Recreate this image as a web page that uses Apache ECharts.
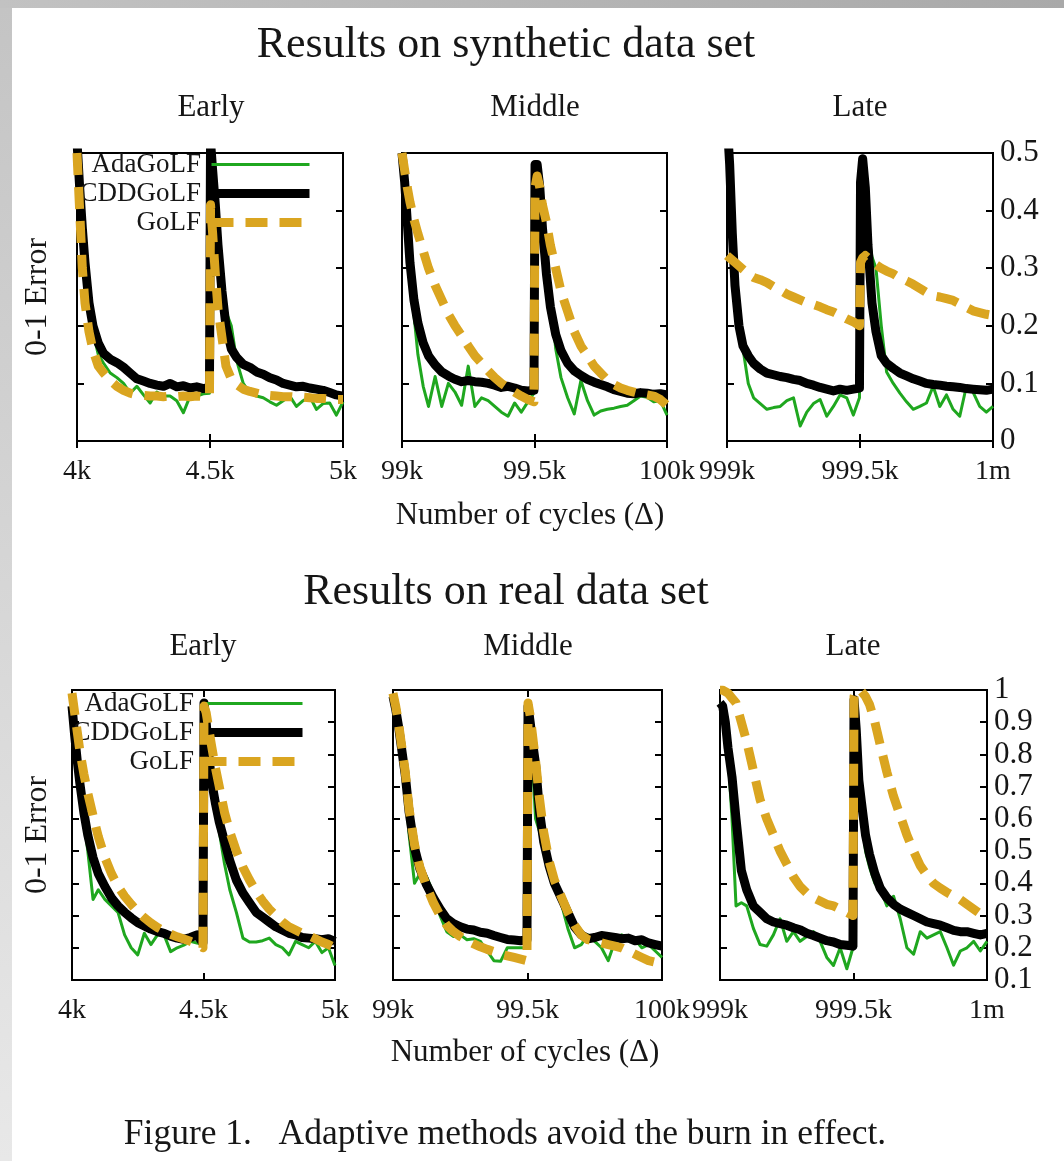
<!DOCTYPE html>
<html><head><meta charset="utf-8">
<script src="https://cdn.jsdelivr.net/npm/echarts@6/dist/echarts.min.js"></script>
<style>
html,body{margin:0;padding:0;width:1064px;height:1161px;overflow:hidden;}
body{background:linear-gradient(to right,#c2c2c2,#a9a9a9);}
#leftband{position:absolute;left:0;top:8px;width:12px;bottom:0;background:linear-gradient(#c4c4c4,#e8e8e8);}
#page{position:absolute;left:12px;top:8px;right:0;bottom:0;background:#fff;}
#chart{position:absolute;left:0;top:0;width:1064px;height:1161px;}
</style></head>
<body>
<div id="leftband"></div><div id="page"></div><div id="chart"></div>
<script>
// ---- data ----
const OFFSETS = [0,10,20,30,45,60,80,100,125,150,175,200,225,250,275,300,325,350,375,400,425,450,475,498,
                 502,510,520,530,545,560,580,600,625,650,675,700,725,750,775,800,825,850,875,900,925,950,975,1000];
const X_BASES = [4000, 99000, 999000];
const X_TICKS_EARLY = ['4k','4.5k','5k'];
const X_TICKS_MIDDLE = ['99k','99.5k','100k'];
const X_TICKS_LATE = ['999k','999.5k','1m'];
const Y_RANGE_SYN = [0, 0.5];
const Y_RANGE_REAL = [0.1, 1];
const SERIES_NAMES = ['AdaGoLF','CDDGoLF','GoLF'];
const ROW_TITLES = ['Results on synthetic data set','Results on real data set'];
const COL_TITLES = ['Early','Middle','Late'];

// synthetic, early
const SYN_EARLY_ADA = [0.5,0.44,0.36,0.3,0.23,0.19,0.15,0.135,0.118,0.11,0.1,0.083,0.095,0.08,0.066,0.085,0.078,0.078,0.07,0.049,0.078,0.078,0.082,0.083,
  0.5,0.47,0.41,0.35,0.29,0.225,0.2,0.14,0.1,0.083,0.078,0.075,0.068,0.062,0.07,0.078,0.06,0.07,0.077,0.055,0.065,0.066,0.045,0.068];
const SYN_EARLY_CDD = [0.52,0.44,0.37,0.31,0.24,0.2,0.17,0.152,0.142,0.136,0.128,0.118,0.108,0.104,0.1,0.097,0.095,0.1,0.094,0.096,0.092,0.094,0.091,0.093,
  0.52,0.47,0.41,0.34,0.26,0.2,0.16,0.145,0.133,0.128,0.12,0.116,0.11,0.106,0.1,0.097,0.094,0.095,0.092,0.09,0.088,0.084,0.08,0.078];
const SYN_EARLY_GOLF = [0.5,0.4,0.3,0.24,0.19,0.158,0.13,0.118,0.105,0.095,0.088,0.083,0.08,0.079,0.078,0.078,0.077,0.078,0.077,0.078,0.077,0.078,0.077,0.078,
  0.41,0.36,0.29,0.23,0.18,0.13,0.108,0.098,0.09,0.086,0.083,0.08,0.079,0.078,0.077,0.077,0.076,0.076,0.075,0.074,0.074,0.073,0.072,0.072];
// synthetic, middle
const SYN_MIDDLE_ADA = [0.5,0.44,0.36,0.29,0.22,0.15,0.095,0.06,0.112,0.06,0.1,0.085,0.062,0.13,0.06,0.075,0.07,0.06,0.05,0.043,0.066,0.05,0.068,0.083,
  0.47,0.45,0.4,0.36,0.32,0.26,0.16,0.11,0.075,0.047,0.105,0.07,0.045,0.052,0.055,0.057,0.06,0.062,0.07,0.078,0.076,0.068,0.07,0.045];
const SYN_MIDDLE_CDD = [0.5,0.45,0.38,0.31,0.245,0.205,0.17,0.148,0.132,0.12,0.113,0.107,0.103,0.105,0.103,0.102,0.1,0.097,0.093,0.095,0.092,0.088,0.087,0.088,
  0.48,0.48,0.44,0.37,0.29,0.233,0.185,0.157,0.135,0.122,0.114,0.107,0.102,0.098,0.094,0.089,0.086,0.083,0.082,0.084,0.083,0.081,0.082,0.08];
const SYN_MIDDLE_GOLF = [0.5,0.47,0.44,0.415,0.385,0.36,0.33,0.3,0.27,0.245,0.22,0.2,0.183,0.165,0.148,0.135,0.122,0.11,0.1,0.092,0.085,0.078,0.072,0.068,
  0.44,0.46,0.44,0.41,0.38,0.34,0.3,0.26,0.225,0.19,0.165,0.148,0.13,0.118,0.106,0.098,0.092,0.088,0.085,0.082,0.08,0.078,0.072,0.062];
// synthetic, late
const SYN_LATE_ADA = [0.56,0.48,0.36,0.27,0.2,0.16,0.1,0.075,0.065,0.055,0.058,0.06,0.07,0.075,0.026,0.05,0.065,0.072,0.043,0.06,0.08,0.075,0.045,0.075,
  0.45,0.49,0.44,0.36,0.32,0.3,0.2,0.12,0.1,0.083,0.068,0.055,0.06,0.066,0.095,0.06,0.08,0.055,0.043,0.095,0.085,0.06,0.05,0.06];
const SYN_LATE_CDD = [0.56,0.48,0.36,0.27,0.2,0.165,0.148,0.135,0.125,0.118,0.115,0.112,0.11,0.107,0.105,0.1,0.097,0.093,0.09,0.087,0.09,0.088,0.09,0.092,
  0.45,0.49,0.44,0.34,0.24,0.19,0.148,0.135,0.126,0.118,0.113,0.108,0.104,0.1,0.098,0.097,0.095,0.094,0.093,0.091,0.09,0.089,0.088,0.09];
const SYN_LATE_GOLF = [0.322,0.318,0.314,0.31,0.304,0.298,0.29,0.284,0.28,0.275,0.268,0.262,0.255,0.25,0.245,0.24,0.237,0.233,0.228,0.224,0.218,0.212,0.207,0.2,
  0.31,0.318,0.322,0.318,0.312,0.306,0.3,0.295,0.29,0.283,0.278,0.272,0.265,0.258,0.252,0.25,0.247,0.244,0.238,0.232,0.226,0.223,0.22,0.218];
// real, early
const REAL_EARLY_ADA = [0.95,0.86,0.78,0.7,0.6,0.5,0.35,0.38,0.35,0.33,0.31,0.24,0.2,0.178,0.245,0.21,0.24,0.24,0.188,0.2,0.208,0.22,0.215,0.208,
  0.96,0.9,0.8,0.72,0.64,0.56,0.46,0.38,0.31,0.23,0.218,0.218,0.222,0.23,0.21,0.2,0.178,0.22,0.21,0.2,0.22,0.185,0.2,0.145];
const REAL_EARLY_CDD = [0.95,0.86,0.78,0.71,0.62,0.55,0.48,0.43,0.39,0.355,0.33,0.31,0.293,0.278,0.268,0.258,0.25,0.245,0.236,0.23,0.226,0.232,0.24,0.215,
  0.96,0.9,0.8,0.72,0.65,0.59,0.53,0.47,0.41,0.37,0.34,0.31,0.295,0.28,0.265,0.255,0.245,0.24,0.232,0.23,0.228,0.225,0.228,0.22];
const REAL_EARLY_GOLF = [0.99,0.93,0.87,0.81,0.74,0.68,0.61,0.545,0.48,0.43,0.39,0.36,0.335,0.312,0.293,0.277,0.263,0.252,0.242,0.234,0.227,0.22,0.212,0.2,
  0.95,0.93,0.88,0.83,0.76,0.7,0.62,0.56,0.5,0.45,0.41,0.375,0.345,0.32,0.3,0.28,0.265,0.255,0.245,0.238,0.228,0.218,0.21,0.2];
// real, middle
const REAL_MIDDLE_ADA = [0.98,0.94,0.89,0.83,0.72,0.55,0.4,0.43,0.42,0.37,0.3,0.25,0.235,0.24,0.225,0.228,0.22,0.19,0.16,0.158,0.2,0.2,0.2,0.2,
  0.95,0.9,0.75,0.6,0.56,0.5,0.45,0.39,0.34,0.26,0.2,0.21,0.24,0.22,0.2,0.16,0.22,0.24,0.23,0.225,0.2,0.21,0.19,0.17];
const REAL_MIDDLE_CDD = [0.98,0.94,0.89,0.83,0.74,0.62,0.51,0.445,0.395,0.355,0.32,0.29,0.275,0.265,0.258,0.255,0.248,0.245,0.238,0.232,0.226,0.224,0.222,0.225,
  0.95,0.9,0.83,0.77,0.62,0.53,0.455,0.4,0.355,0.31,0.265,0.24,0.228,0.232,0.238,0.235,0.232,0.228,0.23,0.222,0.225,0.215,0.21,0.205];
const REAL_MIDDLE_GOLF = [0.99,0.95,0.9,0.84,0.75,0.63,0.52,0.45,0.39,0.34,0.3,0.27,0.25,0.235,0.222,0.212,0.203,0.195,0.188,0.18,0.175,0.17,0.165,0.16,
  0.96,0.92,0.85,0.78,0.66,0.56,0.47,0.41,0.36,0.31,0.27,0.24,0.225,0.22,0.215,0.21,0.205,0.2,0.19,0.18,0.17,0.16,0.155,0.145];
// real, late
const REAL_LATE_ADA = [0.96,0.95,0.9,0.8,0.6,0.33,0.34,0.33,0.26,0.21,0.205,0.24,0.29,0.22,0.25,0.22,0.235,0.25,0.22,0.17,0.145,0.2,0.135,0.2,
  0.97,0.88,0.72,0.62,0.5,0.45,0.4,0.383,0.33,0.36,0.29,0.2,0.18,0.25,0.23,0.24,0.25,0.2,0.146,0.19,0.2,0.22,0.19,0.22];
const REAL_LATE_CDD = [0.96,0.95,0.9,0.82,0.73,0.6,0.44,0.38,0.33,0.31,0.29,0.28,0.275,0.27,0.262,0.256,0.245,0.238,0.23,0.222,0.218,0.21,0.208,0.205,
  0.97,0.88,0.72,0.65,0.55,0.49,0.43,0.385,0.355,0.335,0.32,0.31,0.3,0.29,0.28,0.275,0.27,0.262,0.254,0.25,0.25,0.245,0.24,0.245];
const REAL_LATE_GOLF = [1.0,1.0,0.995,0.99,0.975,0.96,0.9,0.84,0.75,0.66,0.6,0.55,0.5,0.46,0.42,0.39,0.37,0.355,0.345,0.335,0.33,0.32,0.31,0.3,
  0.98,1.0,1.0,0.995,0.98,0.955,0.9,0.83,0.745,0.67,0.61,0.55,0.5,0.455,0.425,0.4,0.385,0.372,0.36,0.35,0.335,0.32,0.305,0.29];

// ---- layout / style ----
const FONT = '"Liberation Serif", "Times New Roman", serif';
const TXT = '#161616';
const GREEN = '#1fa71f', BLACK = '#000000', GOLD = '#daa520';
const GRIDS = [
  {left:77, top:153, width:266, height:288},
  {left:402, top:153, width:265, height:288},
  {left:727, top:153, width:266, height:288},
  {left:72, top:690, width:263, height:290},
  {left:393, top:690, width:269, height:290},
  {left:720, top:690, width:267, height:290}
];
const PANELS = [
  {base:X_BASES[0], ticks:X_TICKS_EARLY, y:Y_RANGE_SYN, vals:[SYN_EARLY_ADA,SYN_EARLY_CDD,SYN_EARLY_GOLF]},
  {base:X_BASES[1], ticks:X_TICKS_MIDDLE, y:Y_RANGE_SYN, vals:[SYN_MIDDLE_ADA,SYN_MIDDLE_CDD,SYN_MIDDLE_GOLF]},
  {base:X_BASES[2], ticks:X_TICKS_LATE, y:Y_RANGE_SYN, vals:[SYN_LATE_ADA,SYN_LATE_CDD,SYN_LATE_GOLF]},
  {base:X_BASES[0], ticks:X_TICKS_EARLY, y:Y_RANGE_REAL, vals:[REAL_EARLY_ADA,REAL_EARLY_CDD,REAL_EARLY_GOLF]},
  {base:X_BASES[1], ticks:X_TICKS_MIDDLE, y:Y_RANGE_REAL, vals:[REAL_MIDDLE_ADA,REAL_MIDDLE_CDD,REAL_MIDDLE_GOLF]},
  {base:X_BASES[2], ticks:X_TICKS_LATE, y:Y_RANGE_REAL, vals:[REAL_LATE_ADA,REAL_LATE_CDD,REAL_LATE_GOLF]}
];
const LINE_STYLES = [
  {color:GREEN, width:3, type:'solid'},
  {color:BLACK, width:9, type:'solid'},
  {color:GOLD, width:9, type:[22,12]}
];

const tick = {show:true, inside:true, length:7, lineStyle:{color:'#000', width:2}};
const grid = [], xAxis = [], yAxis = [], series = [];
PANELS.forEach((p, i) => {
  grid.push(Object.assign({show:true, borderColor:'#000', borderWidth:2, backgroundColor:'transparent'}, GRIDS[i]));
  const xb = {gridIndex:i, type:'value', min:p.base, max:p.base+1000, interval:500,
    axisLine:{show:false}, splitLine:{show:false}, axisTick:tick};
  xAxis.push(Object.assign({}, xb, {position:'bottom',
    axisLabel:{show:true, margin:17, fontFamily:FONT, fontSize:28, color:TXT,
      formatter:(v)=>p.ticks[Math.round((v-p.base)/500)]}}));
  xAxis.push(Object.assign({}, xb, {position:'top', axisLabel:{show:false}}));
  const yb = {gridIndex:i, type:'value', min:p.y[0], max:p.y[1], interval:0.1,
    axisLine:{show:false}, splitLine:{show:false}, axisTick:tick};
  yAxis.push(Object.assign({}, yb, {position:'left', axisLabel:{show:false}}));
  const labelRight = (i % 3 === 2);
  yAxis.push(Object.assign({}, yb, {position:'right',
    axisLabel:{show:labelRight, margin:7, fontFamily:FONT, fontSize:31, color:TXT,
      formatter:(v)=>String(+v.toFixed(1))}}));
  p.vals.forEach((arr, s) => {
    series.push({
      name:SERIES_NAMES[s], type:'line', xAxisIndex:2*i, yAxisIndex:2*i,
      symbol:'none', showSymbol:false, animation:false, clip:true, z:2+s,
      lineStyle:Object.assign({cap:'butt', join:'round'}, LINE_STYLES[s]),
      itemStyle:{color:LINE_STYLES[s].color},
      data:OFFSETS.map((o,k)=>[p.base+o, arr[k]])
    });
  });
});

function legendAt(right, top){
  return {
    orient:'vertical', align:'right', right:right, top:top, padding:0,
    itemWidth:98, itemHeight:14, itemGap:2, selectedMode:false,
    formatter:(n)=>n+'\u2009',
    textStyle:{fontFamily:FONT, fontSize:27, color:TXT},
    data:SERIES_NAMES.map((n,s)=>({name:n, itemStyle:{opacity:0},
      lineStyle:{width:LINE_STYLES[s].width, color:LINE_STYLES[s].color, type:LINE_STYLES[s].type}}))
  };
}

function txt(text, x, y, size, rot){
  return {type:'text', x:x, y:y, rotation:rot||0, silent:true,
    style:{text:text, fill:TXT, font:size+'px '+FONT, align:'center', verticalAlign:'middle',
      textAlign:'center', textVerticalAlign:'middle'}};
}
const graphics = [
  txt(ROW_TITLES[0], 506, 45, 44),
  txt(COL_TITLES[0], 211, 108, 31), txt(COL_TITLES[1], 535, 108, 31), txt(COL_TITLES[2], 860, 108, 31),
  txt('0-1 Error', 38, 297, 32, Math.PI/2),
  txt('Number of cycles (Δ)', 530, 516, 31),
  txt(ROW_TITLES[1], 506, 592, 44),
  txt(COL_TITLES[0], 203, 647, 31), txt(COL_TITLES[1], 528, 647, 31), txt(COL_TITLES[2], 853, 647, 31),
  txt('0-1 Error', 38, 835, 32, Math.PI/2),
  txt('Number of cycles (Δ)', 525, 1053, 31),
  txt('Figure 1.   Adaptive methods avoid the burn in effect.', 505, 1135, 35.5)
];

const chart = echarts.init(document.getElementById('chart'), null, {renderer:'canvas'});
chart.setOption({
  animation:false,
  backgroundColor:'transparent',
  grid:grid, xAxis:xAxis, yAxis:yAxis, series:series,
  legend:[legendAt(750, 151), legendAt(757, 690)],
  graphic:graphics
});
</script>
</body></html>
